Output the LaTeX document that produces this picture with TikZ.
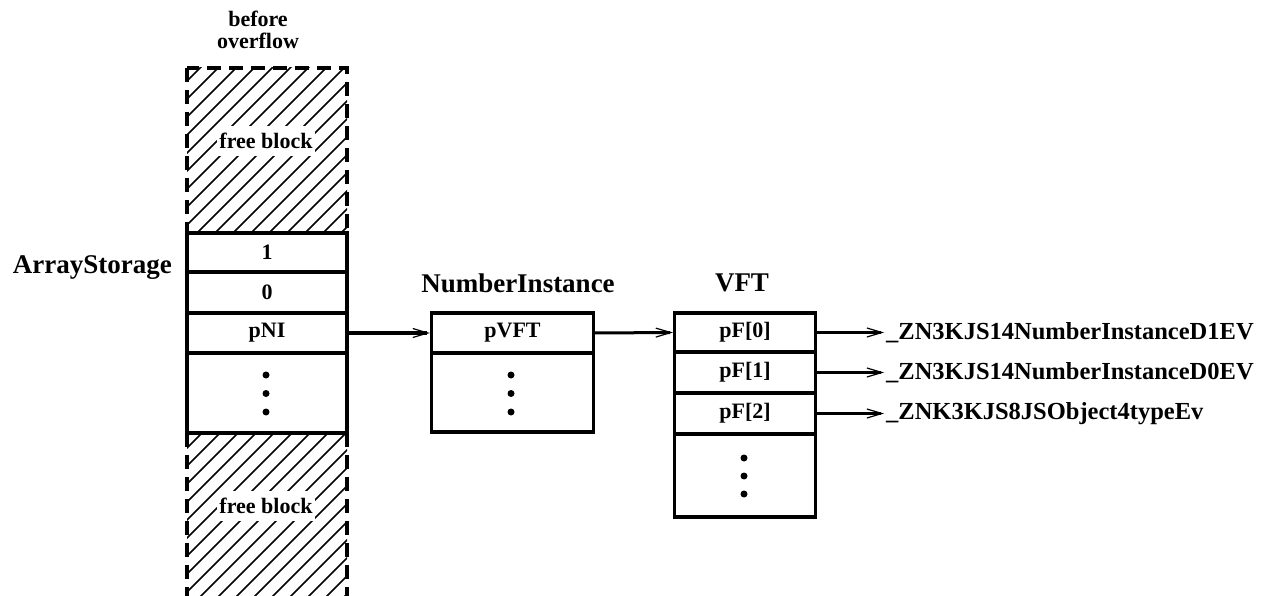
\documentclass[tikz,border=0pt]{standalone}
\usepackage{fontspec}
\setmainfont{Liberation Serif}
\usetikzlibrary{arrows.meta}
\begin{document}
\begin{tikzpicture}[x=1pt,y=-1pt,
  cell/.style={draw, line width=3.3pt, inner sep=0pt, font=\fontsize{22}{22}\selectfont\bfseries},
  title/.style={font=\fontsize{27}{27}\selectfont\bfseries, inner sep=0pt},
  small/.style={font=\fontsize{22}{22}\selectfont\bfseries, inner sep=1pt, align=center},
  fname/.style={font=\fontsize{24.5}{24.5}\selectfont\bfseries, anchor=west, inner sep=2pt},
  ptr/.style={line width=3pt, -{Straight Barb[length=15pt,width=9pt,line width=1.2pt]}},
  hatch/.style={line width=1.6pt},
  freeedge/.style={line width=3.5pt, dash pattern=on 14pt off 8pt},
  dotmark/.style={circle, fill, inner sep=0pt, minimum size=7pt}]
\useasboundingbox (0,0) rectangle (1262,596);
% free blocks (hatched)
\begin{scope}
  \clip (187,68) rectangle (347,233);
  \foreach \i in {0,...,20} \draw[hatch] ({187+\i*18-170},233) -- ++(200,-200);
\end{scope}
\begin{scope}
  \clip (187,433) rectangle (347,600);
  \foreach \i in {0,...,20} \draw[hatch] ({187+\i*18-170},600) -- ++(200,-200);
\end{scope}
\draw[freeedge] (187,68) rectangle (347,233);
\draw[freeedge] (187,433) -- (187,600);
\draw[freeedge] (347,433) -- (347,600);
\node[small, fill=white, inner xsep=2pt, inner ysep=7pt] (fb1) at (266,141) {free block};
\node[small, fill=white, inner xsep=2pt, inner ysep=7pt] (fb2) at (266,506) {free block};
\node[small] (before) at (258,30) {before\\overflow};
% ArrayStorage
\node[cell, minimum width=160pt, minimum height=39pt] (as1) at (267,252.5) {1};
\node[cell, minimum width=160pt, minimum height=41pt] (as0) at (267,292.5) {0};
\node[cell, minimum width=160pt, minimum height=40pt] (aspni) at (267,333) {pNI};
\node[cell, minimum width=160pt, minimum height=80pt] (asdots) at (267,393) {};
\node[title, anchor=east] (astitle) at (172,268) {ArrayStorage};
% NumberInstance
\node[cell, minimum width=162pt, minimum height=40pt] (nivft) at (512.5,333) {pVFT};
\node[cell, minimum width=162pt, minimum height=79pt] (nidots) at (512.5,392.5) {};
\node[title] (nititle) at (518,283) {NumberInstance};
% VFT
\node[cell, minimum width=141pt, minimum height=39pt] (v0) at (745,332.5) {pF[0]};
\node[cell, minimum width=141pt, minimum height=41pt] (v1) at (745,372.5) {pF[1]};
\node[cell, minimum width=141pt, minimum height=41pt] (v2) at (745,413.5) {pF[2]};
\node[cell, minimum width=141pt, minimum height=83pt] (vdots) at (745,475.5) {};
\node[title] (vfttitle) at (742,283) {VFT};
% dots
\foreach \n/\x in {asdots/266, nidots/511} {
  \node[dotmark] (\n a) at (\x,375) {};
  \node[dotmark] (\n b) at (\x,393.5) {};
  \node[dotmark] (\n c) at (\x,412) {};
}
\node[dotmark] (vda) at (744,458) {};
\node[dotmark] (vdb) at (744,476) {};
\node[dotmark] (vdc) at (744,494) {};
% function names
\node[fname] (f0) at (884,332.5) {\_ZN3KJS14NumberInstanceD1EV};
\node[fname] (f1) at (884,372.5) {\_ZN3KJS14NumberInstanceD0EV};
\node[fname] (f2) at (884,413.5) {\_ZNK3KJS8JSObject4typeEv};
% pointers
\draw[ptr] (aspni.east) -- (nivft.west);
\draw[ptr] (nivft.east) -- (v0.west);
\draw[ptr] (v0.east) -- (f0.west);
\draw[ptr] (v1.east) -- (f1.west);
\draw[ptr] (v2.east) -- (f2.west);
\end{tikzpicture}
\end{document}
